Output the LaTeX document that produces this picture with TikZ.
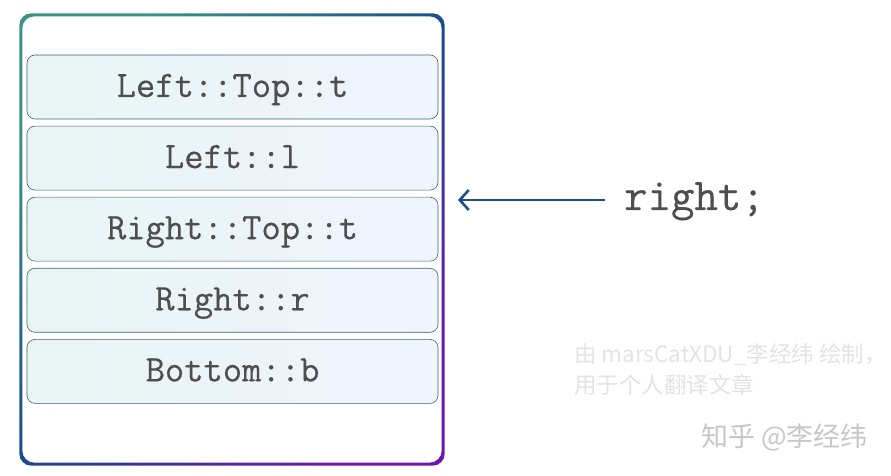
\documentclass[tikz,border=0pt]{standalone}
\usepackage{fontspec}
\newfontfamily\cjk{Noto Sans CJK SC}
\newfontfamily\codefont{Latin Modern Mono}[FakeBold=0.3]
\usetikzlibrary{positioning,arrows.meta}

\definecolor{frametl}{HTML}{3A9486}
\definecolor{framemid}{HTML}{1B4C8C}
\definecolor{framebr}{HTML}{6A16B0}
\definecolor{fieldl}{HTML}{E8F5F4}
\definecolor{fieldr}{HTML}{EFF4FD}
\definecolor{fieldline}{HTML}{3C6470}
\definecolor{code}{HTML}{4E4E4E}
\definecolor{ptrcol}{HTML}{1F4E8C}
\colorlet{mark}{black!11}
\colorlet{markdark}{black!22}
\tikzset{
  field/.style={rectangle,rounded corners=8pt,draw=fieldline,line width=0.6pt,
    left color=fieldl,right color=fieldr,minimum width=411pt,minimum height=64pt,
    font=\codefont\fontsize{37.5}{40}\selectfont,text=code,
    text height=26pt,text depth=6pt},
  ptr/.style={-{Straight Barb[length=9pt,width=20pt,line width=2.6pt]},ptrcol,line width=2.6pt},
}

\begin{document}
\begin{tikzpicture}[x=1pt,y=1pt,node distance=6.5pt]
  \useasboundingbox (0,0) rectangle (891,476);
  % object frame
  \node (frame) [minimum width=422pt,minimum height=449pt,inner sep=0] at (232,236.5) {};
  \coordinate (outnw) at ([shift={(-1.5pt,1.5pt)}]frame.north west);
  \coordinate (outse) at ([shift={(1.5pt,-1.5pt)}]frame.south east);
  \coordinate (innw) at ([shift={(1.5pt,-1.5pt)}]frame.north west);
  \coordinate (inse) at ([shift={(-1.5pt,1.5pt)}]frame.south east);
  \begin{scope}[even odd rule]
    \clip[rounded corners=12pt] (outnw) rectangle (outse) (innw) rectangle (inse);
    \shade[left color=frametl,right color=framebr,middle color=framemid,shading angle=45]
      ([shift={(-3pt,3pt)}]frame.north west) rectangle ([shift={(3pt,-3pt)}]frame.south east);
  \end{scope}
  % subobjects
  \node (lt) [field] at (232.5,389) {Left::Top::t};
  \node (ll) [field,below=of lt] {Left::l};
  \node (rt) [field,below=of ll] {Right::Top::t};
  \node (rr) [field,below=of rt] {Right::r};
  \node (bb) [field,below=of rr] {Bottom::b};
  % pointer
  \node (rtext) [anchor=base west,inner sep=0,text=code,font=\codefont\fontsize{45.5}{48}\selectfont] at (624,266) {right;};
  \coordinate (tip) at (458,276);
  \coordinate (tail) at (605,276);
  \draw[ptr] (tail) -- (tip);
  % watermark
  \node (wm) [anchor=north west,inner sep=0,align=left,text=mark,font=\cjk\fontsize{22.5}{31}\selectfont] at (574,133) {由 marsCatXDU\_李经纬 绘制，\\用于个人翻译文章};
  \node (zh) [anchor=east,inner sep=0,text=markdark,font=\cjk\fontsize{27}{30}\selectfont] at (868,39) {知乎 @李经纬};
\end{tikzpicture}
\end{document}
